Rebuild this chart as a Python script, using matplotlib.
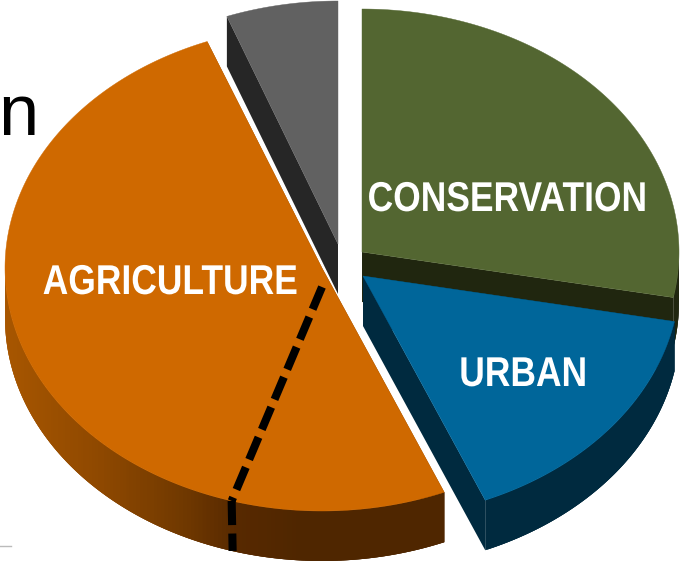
import numpy as np
import matplotlib
matplotlib.use("Agg")
import matplotlib.pyplot as plt
from matplotlib.colors import to_rgb
from matplotlib.patheffects import AbstractPathEffect
from matplotlib.transforms import Affine2D

# data: share of each slice, clockwise from 12 o'clock
labels = ["CONSERVATION", "URBAN", "AGRICULTURE", "OTHER"]
shares = [28.0, 15.7, 50.4, 5.7]
agri_split = [10.9, 39.5]   # the part of AGRICULTURE right of the dashed line, then the rest

# styles
top_colors = ["#536631", "#00669A", "#CF6900", "#616161"]
wall_stops = [
    [(0, "#20260F"), (1, "#20260F")],
    [(0, "#002A3F"), (1, "#002A3F")],
    [(0, "#A95700"), (100, "#8E4800"), (180, "#713900"), (235, "#572900"), (300, "#4F2600"), (700, "#4F2600")],
    [(0, "#262626"), (1, "#262626")],
]
apex = [(362, 252), (363, 276), (322, 268), (338, 244)]
label_pos = [(507, 200), (523, 375), (170, 283), None]
RX, RY, DEPTH = 317, 243, 50
NARROW = 0.85

fig = plt.figure(figsize=(6.82, 5.63), dpi=100)
ax = fig.add_axes([0, 0, 1, 1])
ax.set_xlim(0, 682)
ax.set_ylim(563, 0)
ax.axis("off")


class Narrow(AbstractPathEffect):
    """Squeezes a text sideways around a given x, standing in for a condensed bold face."""

    def __init__(self, cx, factor):
        super().__init__()
        self.cx, self.factor = cx, factor

    def draw_path(self, renderer, gc, tpath, affine, rgbFace=None):
        squeeze = Affine2D().translate(-self.cx, 0).scale(self.factor, 1).translate(self.cx, 0)
        renderer.draw_path(gc, tpath, affine + squeeze, rgbFace)


def project(center, deg):
    t = np.radians(deg)
    return center[0] + RX * np.cos(t), center[1] - RY * np.sin(t)


def wall_color(stops, x):
    xs = [s[0] for s in stops]
    rgb = np.array([to_rgb(s[1]) for s in stops])
    return tuple(float(np.interp(x, xs, rgb[:, i])) for i in range(3))


start = 90.0
edges = []
for share in shares:
    edges.append((start, start - share * 3.6))
    start -= share * 3.6
edges[3] = (90 + shares[3] * 3.6, 90.0)   # the last slice closes at 12 o'clock

for z, i in enumerate([3, 2, 0, 1]):
    a0, a1 = edges[i]
    c = apex[i]
    th = np.linspace(a0, a1, 240)
    px, py = project(c, th)
    # walls: the two cut sides
    for qx, qy in ((px[0], py[0]), (px[-1], py[-1])):
        ax.fill([c[0], qx, qx, c[0]], [c[1], qy, qy + DEPTH, c[1] + DEPTH],
                facecolor=wall_color(wall_stops[i], qx), edgecolor="none", zorder=z * 3 + 1)
    # wall: the near part of the rim, left to right, in overlapping strips so no seams show
    near = np.sin(np.radians(th)) <= 0.02
    order = np.argsort(px[near])
    sx, sy = px[near][order], py[near][order]
    for j in range(len(sx) - 1):
        k = min(j + 3, len(sx) - 1)
        ax.fill([sx[j], sx[k], sx[k], sx[j]],
                [sy[j], sy[k], sy[k] + DEPTH, sy[j] + DEPTH],
                facecolor=wall_color(wall_stops[i], sx[j]), edgecolor="none",
                zorder=z * 3 + 1)
    # top face
    ax.fill(np.r_[c[0], px], np.r_[c[1], py], facecolor=top_colors[i],
            edgecolor=top_colors[i], lw=0.3, zorder=z * 3 + 2)

# dashed divider inside AGRICULTURE
a_div = edges[2][0] - agri_split[0] * 3.6
c = apex[2]
dx, dy = project(c, a_div)
ax.plot([c[0], dx], [c[1] + 19, dy], color="black", lw=5.8, ls=(0, (3, 1.05)),
        dash_capstyle="butt", zorder=40)
ax.plot([dx, dx + 1], [dy, dy + DEPTH], color="black", lw=5.8, ls=(0, (3, 1.05)),
        dash_capstyle="butt", zorder=40)

# labels
for lab, pos in zip(labels, label_pos):
    if pos is None:
        continue
    ax.text(pos[0], pos[1], lab, color="white", ha="center", va="center",
            family="Liberation Sans", fontweight="bold", fontsize=30, zorder=50,
            path_effects=[Narrow(pos[0], NARROW)])

# remains of the slide behind the chart
ax.text(-1.5, 135, "n", color="black", family="Liberation Sans", fontsize=52,
        ha="left", va="baseline", zorder=50)
ax.plot([0, 11], [546, 546], color="#BBBBBB", lw=1.0, zorder=1)

fig.savefig("out.png", dpi=100, facecolor="white")
